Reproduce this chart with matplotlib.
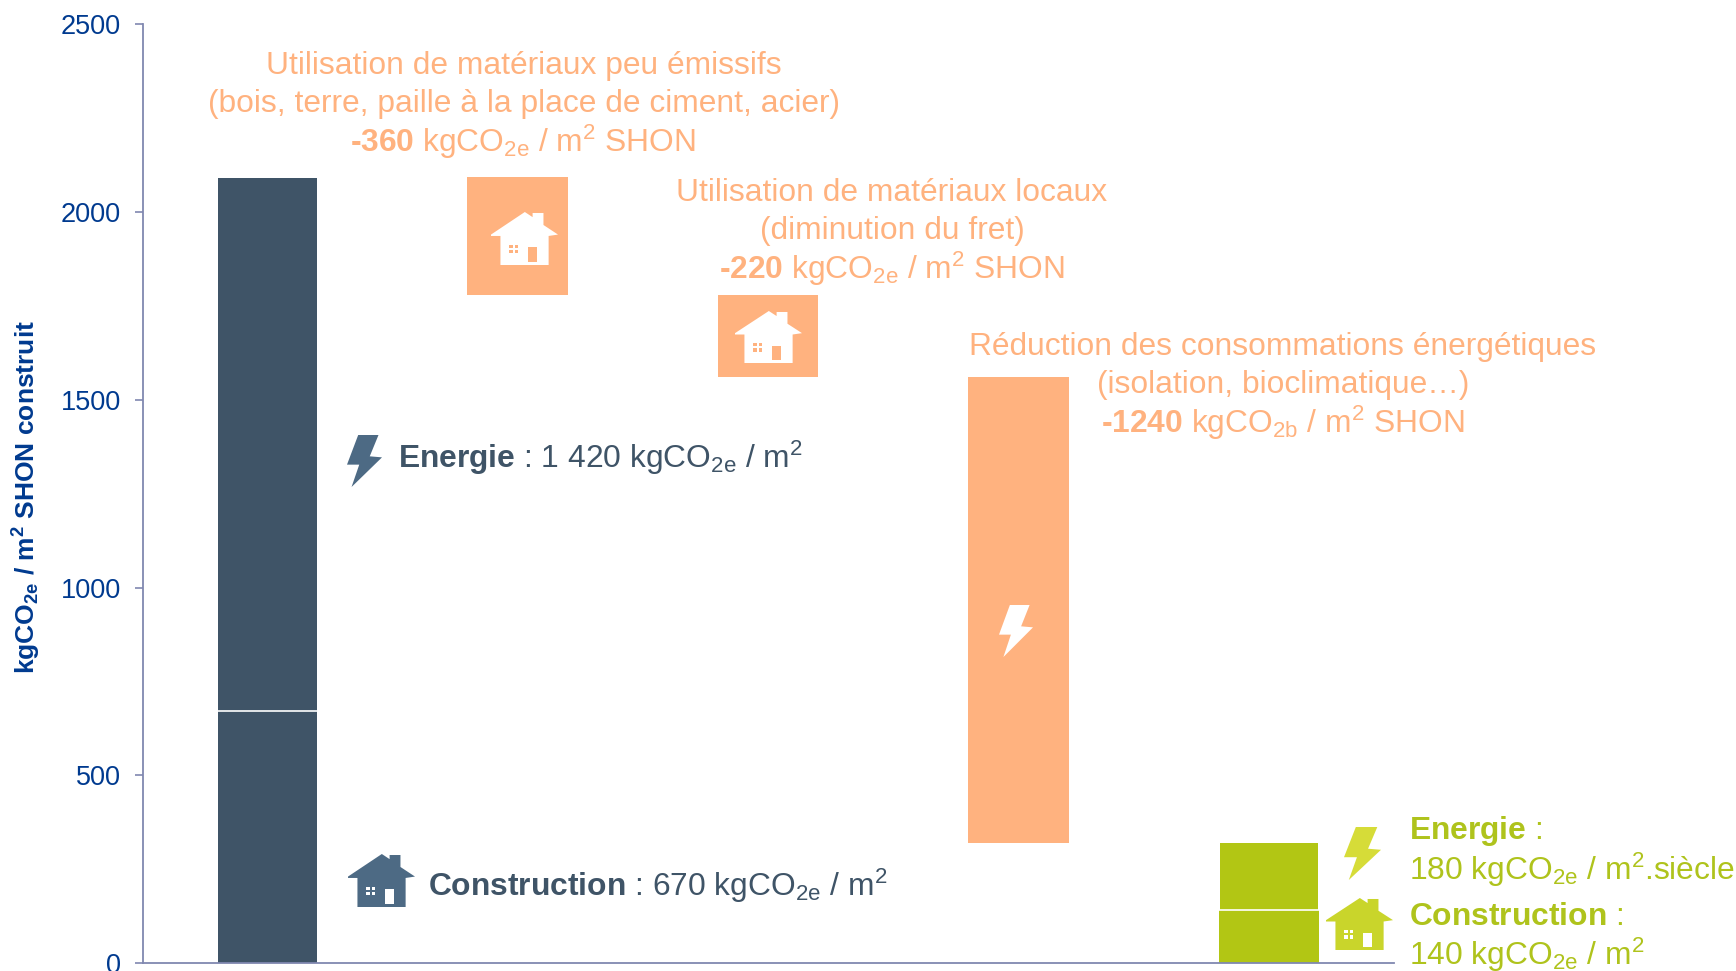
import matplotlib
matplotlib.use('Agg')
import matplotlib.pyplot as plt
from matplotlib.patches import Polygon, Rectangle

plt.rcParams['font.family'] = ['Liberation Sans', 'DejaVu Sans']
plt.rcParams['mathtext.fontset'] = 'custom'
plt.rcParams['mathtext.rm'] = 'Liberation Sans'
plt.rcParams['mathtext.it'] = 'Liberation Sans:italic'
plt.rcParams['mathtext.bf'] = 'Liberation Sans:bold'
plt.rcParams['mathtext.default'] = 'regular'

# Values (kgCO2e / m2 SHON)
y_ticks = [0, 500, 1000, 1500, 2000, 2500]
construction = 670
energie = 1420
savings_bottoms = [1780, 1560, 320]
savings_heights = [313, 220, 1240]
green_construction = 140
green_energie = 180

NAVY = '#003A8F'
AXIS = '#8088B0'
DARK = '#3F5467'
DARK_ICON = '#4D6A84'
ORANGE = '#FFB27F'
GREEN = '#B2C614'
GREEN_TXT = '#AFC31C'

W, H = 1736, 971
X0, X1 = 143, 1394
Y_TOP, Y_BOT = 24.4, 963

fig = plt.figure(figsize=(W / 100, H / 100), dpi=100)
ax = fig.add_axes([X0 / W, 1 - Y_BOT / H, (X1 - X0) / W, (Y_BOT - Y_TOP) / H])

# Stacked start bar
ax.bar(0, construction, width=0.395, color=DARK)
ax.bar(0, energie, width=0.395, bottom=construction, color=DARK)
ax.plot([-0.1975, 0.1975], [construction, construction], color='white', lw=1.2)

# Floating reductions
ax.bar([1, 2, 3], savings_heights, width=[0.405, 0.400, 0.405],
       bottom=savings_bottoms, color=ORANGE)

# Target bar
ax.bar(4, green_construction, width=0.402, color=GREEN)
ax.bar(4, green_energie, width=0.39, bottom=green_construction, color=GREEN)
ax.plot([3.8, 4.2], [green_construction + 2, green_construction + 2],
        color='white', lw=1.2)

ax.set_xlim(-0.497, 4.5)
ax.set_ylim(0, 2500)
ax.set_xticks([])
ax.set_yticks(y_ticks)
ax.tick_params(axis='y', colors=AXIS, labelcolor=NAVY, labelsize=19.5,
               length=6, width=1.2, pad=10)
for side in ['top', 'right']:
    ax.spines[side].set_visible(False)
for side in ['left', 'bottom']:
    ax.spines[side].set_color(AXIS)
    ax.spines[side].set_linewidth(1.3)

# Overlay in picture pixels for the icons and the notes
over = fig.add_axes([0, 0, 1, 1])
over.set_xlim(0, W)
over.set_ylim(H, 0)
over.axis('off')
over.patch.set_alpha(0)

HOUSE = [(0, .426), (.505, 0), (.621, .097), (.621, .019), (.783, .019), (.783, .245),
         (1, .426), (.86, .452), (.86, 1), (.141, 1), (.141, .452), (0, .452)]
BOLT = [(.32, 0), (.90, 0), (.65, .41), (1, .43), (.13, 1), (.35, .57), (0, .57)]


def draw_house(left, top, right, bottom, color, detail):
    w, h = right - left, bottom - top
    over.add_patch(Polygon([(left + a * w, top + b * h) for a, b in HOUSE], color=color, lw=0))
    over.add_patch(Rectangle((left + .55 * w, top + .665 * h), .135 * w, .27 * h,
                             color=detail, lw=0))
    for a in (.275, .36):
        for b in (.615, .72):
            over.add_patch(Rectangle((left + a * w, top + b * h), .05 * w, .06 * h,
                                     color=detail, lw=0))


def draw_bolt(left, top, right, bottom, color):
    w, h = right - left, bottom - top
    over.add_patch(Polygon([(left + a * w, top + b * h) for a, b in BOLT], color=color, lw=0))


draw_house(491, 212, 558, 265, 'white', ORANGE)
draw_house(735, 311, 802, 363, 'white', ORANGE)
draw_house(348, 854, 415, 907, DARK_ICON, 'white')
draw_house(1326, 898, 1393, 950, '#C9D52B', 'white')
draw_bolt(347, 435, 382, 487, DARK_ICON)
draw_bolt(999, 605, 1033, 657, 'white')
draw_bolt(1344, 827, 1381, 880, '#D6DC38')

BIG = 22.85
HY = '\N{HYPHEN}'


def note(x, y, s, color, ha='center'):
    over.text(x, y, s, color=color, fontsize=BIG, ha=ha, va='center')


note(524, 66, 'Utilisation de matériaux peu émissifs', ORANGE)
note(524, 104, '(bois, terre, paille à la place de ciment, acier)', ORANGE)
note(523, 142, r'$\mathbf{' + HY + r'360}$ kgCO$_{2e}$ / m$^{2}$ SHON', ORANGE)

note(892, 193, 'Utilisation de matériaux locaux', ORANGE)
note(892, 231, '(diminution du fret)', ORANGE)
note(892, 269, r'$\mathbf{' + HY + r'220}$ kgCO$_{2e}$ / m$^{2}$ SHON', ORANGE)

note(1283, 347, 'Réduction des consommations énergétiques', ORANGE)
note(1283, 385, '(isolation, bioclimatique…)', ORANGE)
note(1283, 423, r'$\mathbf{' + HY + r'1240}$ kgCO$_{2b}$ / m$^{2}$ SHON', ORANGE)

note(398, 458, r'$\mathbf{Energie}$ : 1 420 kgCO$_{2e}$ / m$^{2}$', DARK, ha='left')
note(428, 886, r'$\mathbf{Construction}$ : 670 kgCO$_{2e}$ / m$^{2}$', DARK, ha='left')

note(1409, 831, r'$\mathbf{Energie}$ :', GREEN_TXT, ha='left')
note(1409, 870, r'180 kgCO$_{2e}$ / m$^{2}$.siècle', GREEN_TXT, ha='left')
note(1409, 917, r'$\mathbf{Construction}$ :', GREEN_TXT, ha='left')
note(1409, 955, r'140 kgCO$_{2e}$ / m$^{2}$', GREEN_TXT, ha='left')

over.text(27, 497, r'$\mathbf{kgCO_{2e}\ /\ m^{2}\ SHON\ construit}$', color=NAVY,
          fontsize=19, rotation=90, ha='center', va='center')

fig.savefig('out.png', dpi=100)
